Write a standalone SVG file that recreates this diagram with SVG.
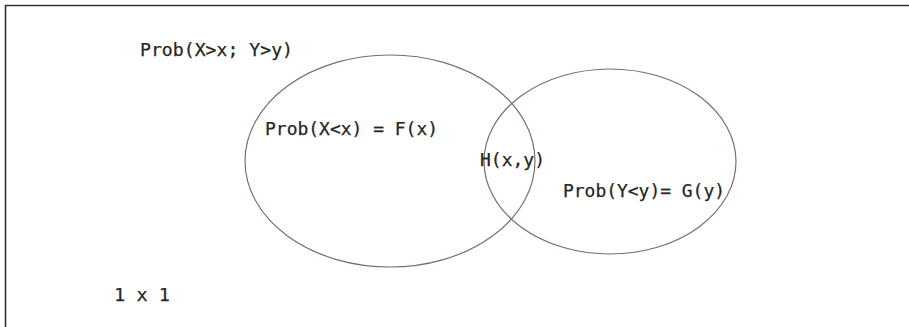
<svg xmlns="http://www.w3.org/2000/svg" width="909" height="327" viewBox="0 0 909 327">
<style>
.t{font-family:"DejaVu Sans Mono","Liberation Mono",monospace;font-size:18px;fill:#262626;stroke:#262626;stroke-width:0.25}
.e{fill:none;stroke:#7a6c6c;stroke-width:1.2}
</style>
<rect width="909" height="327" fill="#fff"/>
<path d="M5.5,327 V5.5 H909" fill="none" stroke="#333" stroke-width="1.6"/>
<g id="label-outside"><text class="t" x="140" y="56" textLength="153" lengthAdjust="spacingAndGlyphs">Prob(X&gt;x; Y&gt;y)</text></g>
<g id="set-x">
<ellipse class="e" cx="390" cy="161" rx="145" ry="106"/>
<text class="t" x="265" y="135" textLength="173" lengthAdjust="spacingAndGlyphs">Prob(X&lt;x) = F(x)</text>
</g>
<g id="set-y">
<ellipse class="e" cx="610" cy="161.5" rx="126" ry="92.5"/>
<text class="t" x="563" y="197" textLength="162" lengthAdjust="spacingAndGlyphs">Prob(Y&lt;y)= G(y)</text>
</g>
<g id="intersection"><text class="t" x="480" y="166" textLength="65" lengthAdjust="spacingAndGlyphs">H(x,y)</text></g>
<g id="unit"><text class="t" x="114" y="301" textLength="56" lengthAdjust="spacingAndGlyphs">1 x 1</text></g>
<g id="connectors"/>
</svg>
